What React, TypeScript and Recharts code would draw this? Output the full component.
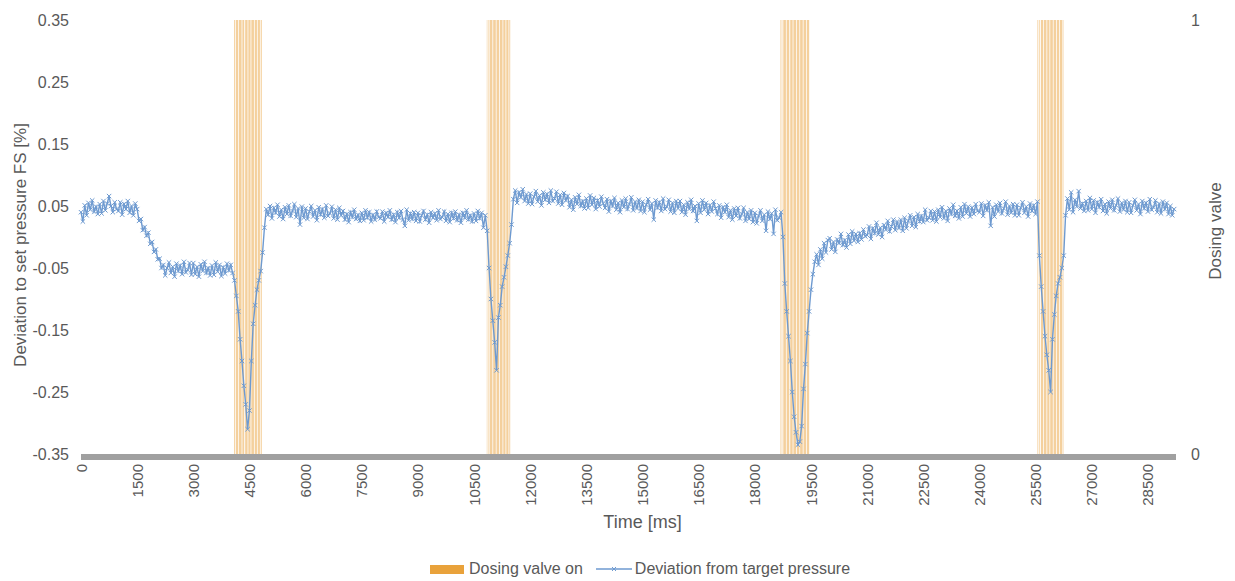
import { ComposedChart, Line, Area, XAxis, YAxis, Legend } from 'recharts'

const FONT = '"Liberation Sans", Arial, sans-serif'
const TEXT = '#595959'
const BLUE = '#6E9AD0'
const ORANGE = '#E9A23B'

const STEP_MS = 50
const TIME_END_MS = 29250

const TIME_TICKS = [
  0, 1500, 3000, 4500, 6000, 7500, 9000, 10500, 12000, 13500,
  15000, 16500, 18000, 19500, 21000, 22500, 24000, 25500, 27000, 28500,
]
const DEV_TICKS = [-0.35, -0.25, -0.15, -0.05, 0.05, 0.15, 0.25, 0.35]
const VALVE_TICKS = [0, 1]

// deviation [% FS], one row per second, sampled every 50 ms
const DEVIATION = [
  0.04, 0.025, 0.051, 0.035, 0.055, 0.044, 0.059, 0.041, 0.049, 0.037, 0.053, 0.038, 0.058, 0.043, 0.054, 0.066, 0.05, 0.04, 0.056, 0.045,
  0.042, 0.056, 0.036, 0.053, 0.045, 0.058, 0.039, 0.05, 0.035, 0.054, 0.045, 0.026, 0.029, 0.011, 0.016, 0.002, 0.007, -0.011, -0.008, -0.024,
  -0.02, -0.036, -0.035, -0.05, -0.045, -0.062, -0.05, -0.041, -0.058, -0.048, -0.064, -0.043, -0.055, -0.046, -0.06, -0.04, -0.057, -0.053, -0.042, -0.061,
  -0.042, -0.06, -0.048, -0.064, -0.044, -0.055, -0.04, -0.058, -0.05, -0.062, -0.046, -0.061, -0.041, -0.056, -0.045, -0.063, -0.049, -0.059, -0.043, -0.054,
  -0.045, -0.058, -0.07, -0.095, -0.12, -0.165, -0.2, -0.24, -0.27, -0.31, -0.28, -0.2, -0.14, -0.11, -0.085, -0.07, -0.055, -0.025, 0.015, 0.045,
  0.036, 0.05, 0.03, 0.047, 0.039, 0.052, 0.033, 0.044, 0.029, 0.048, 0.037, 0.051, 0.034, 0.042, 0.053, 0.032, 0.046, 0.02, 0.049, 0.031,
  0.046, 0.029, 0.041, 0.05, 0.033, 0.043, 0.027, 0.048, 0.036, 0.045, 0.031, 0.051, 0.034, 0.038, 0.049, 0.03, 0.044, 0.028, 0.047, 0.035,
  0.042, 0.028, 0.037, 0.024, 0.04, 0.032, 0.044, 0.029, 0.036, 0.026, 0.039, 0.027, 0.043, 0.031, 0.04, 0.025, 0.036, 0.028, 0.041, 0.032,
  0.03, 0.041, 0.025, 0.039, 0.032, 0.043, 0.028, 0.036, 0.024, 0.04, 0.031, 0.042, 0.028, 0.018, 0.044, 0.027, 0.038, 0.029, 0.04, 0.026,
  0.039, 0.025, 0.035, 0.042, 0.028, 0.036, 0.023, 0.04, 0.031, 0.038, 0.027, 0.043, 0.029, 0.032, 0.041, 0.026, 0.037, 0.024, 0.039, 0.03,
  0.041, 0.027, 0.036, 0.023, 0.039, 0.031, 0.043, 0.028, 0.035, 0.025, 0.038, 0.026, 0.042, 0.03, 0.039, 0.015, 0.035, 0.01, -0.05, -0.1,
  -0.135, -0.17, -0.215, -0.13, -0.11, -0.08, -0.065, -0.048, -0.03, -0.01, 0.02, 0.061, 0.075, 0.055, 0.072, 0.064, 0.077, 0.058, 0.069, 0.054,
  0.07, 0.053, 0.065, 0.074, 0.057, 0.067, 0.051, 0.072, 0.06, 0.069, 0.055, 0.075, 0.058, 0.062, 0.073, 0.054, 0.068, 0.052, 0.071, 0.059,
  0.066, 0.048, 0.06, 0.044, 0.064, 0.053, 0.068, 0.05, 0.058, 0.046, 0.062, 0.047, 0.067, 0.052, 0.063, 0.045, 0.059, 0.049, 0.065, 0.054,
  0.047, 0.061, 0.041, 0.058, 0.05, 0.063, 0.044, 0.055, 0.04, 0.059, 0.048, 0.062, 0.045, 0.053, 0.064, 0.043, 0.057, 0.046, 0.06, 0.042,
  0.057, 0.04, 0.052, 0.061, 0.044, 0.054, 0.028, 0.059, 0.047, 0.056, 0.042, 0.062, 0.045, 0.049, 0.06, 0.041, 0.055, 0.039, 0.058, 0.046,
  0.058, 0.04, 0.052, 0.036, 0.056, 0.045, 0.06, 0.042, 0.05, 0.026, 0.054, 0.039, 0.059, 0.044, 0.055, 0.037, 0.051, 0.041, 0.057, 0.046,
  0.037, 0.051, 0.031, 0.048, 0.04, 0.052, 0.032, 0.043, 0.028, 0.046, 0.034, 0.047, 0.03, 0.037, 0.047, 0.026, 0.04, 0.029, 0.043, 0.024,
  0.039, 0.022, 0.034, 0.043, 0.026, 0.036, 0.01, 0.041, 0.029, 0.038, 0.005, 0.044, 0.027, 0.031, 0.04, 0.0, -0.075, -0.12, -0.16, -0.2,
  -0.25, -0.29, -0.315, -0.335, -0.33, -0.305, -0.245, -0.205, -0.155, -0.12, -0.085, -0.06, -0.04, -0.028, -0.045, -0.02, -0.035, -0.01, -0.025, -0.005,
  -0.002, -0.02, -0.008, -0.024, -0.004, -0.01, 0.005, -0.013, -0.005, -0.017, 0.004, -0.011, 0.009, -0.006, 0.005, -0.008, 0.006, -0.004, 0.012, 0.001,
  0.003, 0.017, -0.003, 0.014, 0.006, 0.023, 0.004, 0.015, 0.0, 0.019, 0.012, 0.026, 0.009, 0.017, 0.028, 0.011, 0.025, 0.014, 0.028, 0.01,
  0.031, 0.014, 0.026, 0.035, 0.018, 0.032, 0.016, 0.037, 0.025, 0.034, 0.024, 0.044, 0.027, 0.031, 0.042, 0.027, 0.041, 0.025, 0.044, 0.032,
  0.048, 0.03, 0.042, 0.026, 0.046, 0.037, 0.052, 0.034, 0.042, 0.03, 0.048, 0.033, 0.053, 0.038, 0.049, 0.033, 0.047, 0.037, 0.053, 0.042,
  0.04, 0.054, 0.034, 0.051, 0.043, 0.056, 0.018, 0.048, 0.033, 0.052, 0.041, 0.055, 0.038, 0.046, 0.057, 0.036, 0.05, 0.039, 0.053, 0.035,
  0.052, 0.035, 0.047, 0.056, 0.039, 0.049, 0.033, 0.054, 0.042, 0.051, 0.037, 0.057, -0.03, -0.08, -0.12, -0.16, -0.19, -0.215, -0.25, -0.165,
  -0.125, -0.095, -0.075, -0.065, -0.05, -0.03, 0.035, 0.062, 0.044, 0.072, 0.04, 0.06, 0.049, 0.074, 0.046, 0.054, 0.042, 0.058, 0.043, 0.063,
  0.045, 0.059, 0.039, 0.056, 0.048, 0.061, 0.042, 0.053, 0.038, 0.057, 0.046, 0.06, 0.043, 0.051, 0.062, 0.041, 0.055, 0.044, 0.058, 0.04,
  0.056, 0.039, 0.051, 0.06, 0.043, 0.053, 0.037, 0.058, 0.046, 0.055, 0.041, 0.061, 0.044, 0.048, 0.059, 0.04, 0.054, 0.038, 0.057, 0.045,
  0.055, 0.037, 0.05, 0.035, 0.045,
]

// dosing valve on-pulses [start ms, end ms]
const VALVE_PULSES: [number, number][] = [
  [4090, 4115], [4135, 4200], [4220, 4290], [4310, 4360], [4385, 4450],
  [4470, 4530], [4550, 4620], [4640, 4700], [4720, 4780], [4800, 4830],
  [10840, 10855], [10875, 10890], [10915, 10990], [11010, 11080], [11100, 11170],
  [11190, 11260], [11280, 11340], [11360, 11420], [11440, 11465],
  [18676, 18690], [18715, 18735], [18760, 18830], [18850, 18920], [18945, 19010],
  [19030, 19100], [19120, 19190], [19210, 19280], [19300, 19370], [19390, 19451],
  [25548, 25570], [25590, 25610], [25640, 25700], [25720, 25790], [25810, 25870],
  [25890, 25960], [25980, 26050], [26070, 26130], [26150, 26210], [26225, 26243],
]

type Row = { t: number; dev?: number; valve?: number }

const rows = new Map<number, Row>()
DEVIATION.forEach((v, i) => rows.set(i * STEP_MS, { t: i * STEP_MS, dev: v }))
const setValve = (t: number, v: number) => {
  const r = rows.get(t) ?? { t }
  r.valve = v
  rows.set(t, r)
}
setValve(0, 0)
VALVE_PULSES.forEach(([a, b]) => {
  setValve(a, 1)
  setValve(b, 0)
})
setValve((DEVIATION.length - 1) * STEP_MS, 0)
const data = [...rows.values()].sort((a, b) => a.t - b.t)

function CrossDot(props: any) {
  const { cx, cy, value, index } = props
  if (cx == null || cy == null || value == null) return <g key={`d-${index}`} />
  const s = 2.2
  return (
    <path
      key={`d-${index}`}
      d={`M${cx - s},${cy - s}L${cx + s},${cy + s}M${cx - s},${cy + s}L${cx + s},${cy - s}`}
      stroke={BLUE}
      strokeWidth={1}
      fill="none"
    />
  )
}

function TimeTick(props: any) {
  const { x, y, payload } = props
  const ty = y + 2
  return (
    <text
      x={x}
      y={ty}
      transform={`rotate(-90 ${x} ${ty})`}
      textAnchor="end"
      dominantBaseline="central"
      fill={TEXT}
      fontSize={15}
      fontFamily={FONT}
    >
      {payload.value}
    </text>
  )
}

const devTitle = (p: any) => {
  const vb = p.viewBox
  const x = vb.x + 20
  const y = vb.y + vb.height / 2 + 8
  return (
    <text x={x} y={y} transform={`rotate(-90 ${x} ${y})`} textAnchor="middle" dominantBaseline="central" fill={TEXT} fontSize={17} fontFamily={FONT}>
      Deviation to set pressure FS [%]
    </text>
  )
}

const valveTitle = (p: any) => {
  const vb = p.viewBox
  const x = vb.x + 39
  const y = vb.y + vb.height / 2 - 6
  return (
    <text x={x} y={y} transform={`rotate(-90 ${x} ${y})`} textAnchor="middle" dominantBaseline="central" fill={TEXT} fontSize={17} fontFamily={FONT}>
      Dosing valve
    </text>
  )
}

const timeTitle = (p: any) => {
  const vb = p.viewBox
  return (
    <text x={vb.x + vb.width / 2 + 14} y={vb.y + 68} textAnchor="middle" dominantBaseline="central" fill={TEXT} fontSize={18} fontFamily={FONT}>
      Time [ms]
    </text>
  )
}

function LegendBox() {
  return (
    <div style={{ display: 'flex', alignItems: 'center', fontFamily: FONT, fontSize: 16, color: TEXT, whiteSpace: 'nowrap' }}>
      <span style={{ display: 'inline-block', width: 34, height: 9, background: ORANGE, marginRight: 5 }} />
      <span>Dosing valve on</span>
      <svg width={36} height={10} style={{ marginLeft: 13, marginRight: 3 }}>
        <line x1={0} y1={5} x2={36} y2={5} stroke={BLUE} strokeWidth={1.5} />
        <path d="M16,3L20,7M16,7L20,3" stroke={BLUE} strokeWidth={1} />
      </svg>
      <span>Deviation from target pressure</span>
    </div>
  )
}

export default function App() {
  return (
    <div style={{ position: 'absolute', left: 0, top: 0, background: '#fff' }}>
      <ComposedChart width={1235} height={581} data={data} margin={{ top: 20, right: 0, bottom: 27, left: 0 }} style={{ fontFamily: FONT }}>
        <XAxis
          dataKey="t"
          type="number"
          domain={[0, TIME_END_MS]}
          ticks={TIME_TICKS}
          interval={0}
          height={100}
          tickLine={false}
          axisLine={{ stroke: '#A0A0A0', strokeWidth: 6, transform: 'translate(0,3)' }}
          tick={<TimeTick />}
          label={timeTitle}
        />
        <YAxis
          yAxisId="dev"
          orientation="left"
          width={81}
          domain={[-0.35, 0.35]}
          ticks={DEV_TICKS}
          interval={0}
          allowDataOverflow
          axisLine={false}
          tickLine={false}
          tickMargin={6}
          tickFormatter={(v: number) => v.toFixed(2)}
          tick={{ fill: TEXT, fontSize: 16 }}
          label={devTitle}
        />
        <YAxis
          yAxisId="valve"
          orientation="right"
          width={59}
          domain={[0, 1]}
          ticks={VALVE_TICKS}
          interval={0}
          axisLine={false}
          tickLine={false}
          tickMargin={9}
          tick={{ fill: TEXT, fontSize: 16 }}
          label={valveTitle}
        />
        <Legend
          layout="horizontal"
          verticalAlign="middle"
          align="center"
          wrapperStyle={{ top: 560, left: 430, width: 460 }}
          content={() => <LegendBox />}
        />
        <Area
          yAxisId="valve"
          dataKey="valve"
          type="stepAfter"
          connectNulls
          stroke="none"
          fill={ORANGE}
          fillOpacity={0.5}
          isAnimationActive={false}
          activeDot={false}
        />
        <Line
          yAxisId="dev"
          dataKey="dev"
          type="linear"
          connectNulls
          stroke={BLUE}
          strokeWidth={1.4}
          dot={CrossDot}
          activeDot={false}
          isAnimationActive={false}
        />
      </ComposedChart>
    </div>
  )
}
